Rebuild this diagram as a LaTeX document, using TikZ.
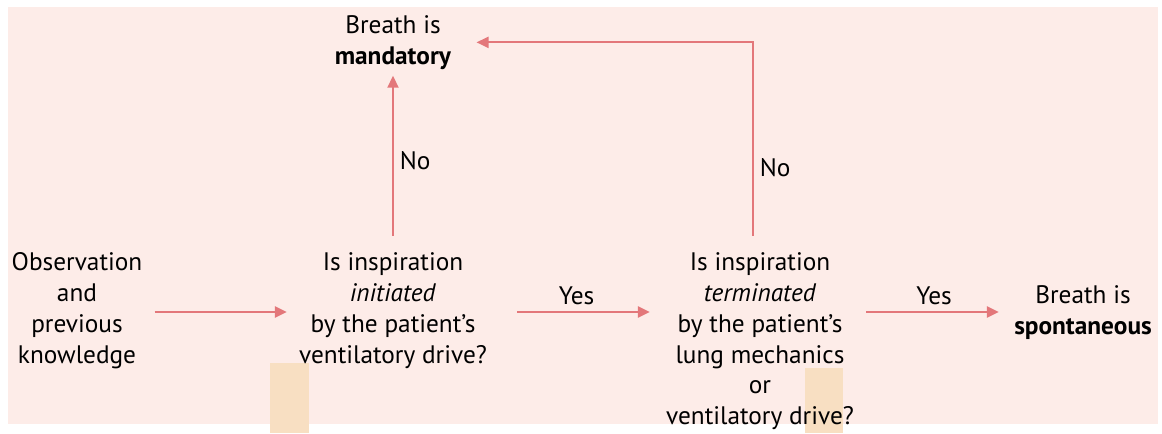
\documentclass[tikz,border=0pt]{standalone}
\usepackage{fontspec}
\setmainfont{PT Sans}
\usepackage{tikz}
\usetikzlibrary{arrows.meta,positioning,calc}
\definecolor{bgpink}{HTML}{FDECE8}
\definecolor{arrowred}{HTML}{E3777A}
\definecolor{barorange}{HTML}{F8DFC2}

\begin{document}
\begin{tikzpicture}[>=Latex,
  txt/.style={align=center,inner sep=0pt,font=\fontsize{14.4}{17.6}\selectfont},
  lab/.style={text=black,font=\fontsize{14.4}{17.6}\selectfont},
  arr/.style={arrowred,line width=1.5pt,-{Triangle[length=.24cm,width=.22cm]}}]
\useasboundingbox (0,0) rectangle (23.24,8.66);
\fill[bgpink] (.16,.18) rectangle (23.16,8.52);
\fill[barorange] (5.40,0) rectangle (6.18,1.40);
\fill[barorange] (16.10,0) rectangle (16.86,1.30);
\coordinate (axis) at (0,2.42);
\node[txt,anchor=north] (obs) at (1.54,3.62) {Observation\\and\\previous\\knowledge};
\node[txt,anchor=north] (q1) at (7.86,3.62) {Is inspiration\\\textit{initiated}\\by the patient’s\\ventilatory drive?};
\node[txt,anchor=north] (q2) at (15.2,3.62) {Is inspiration\\\textit{terminated}\\by the patient’s\\lung mechanics\\or\\ventilatory drive?};
\node[txt,anchor=north] (mand) at (7.86,8.36) {Breath is\\\textbf{mandatory}};
\node[txt,anchor=north] (spont) at (21.66,2.96) {Breath is\\\textbf{spontaneous}};
\draw[arr,shorten <=.24cm,shorten >=.24cm] (obs.east |- axis)--(q1.west |- axis);
\draw[arr,shorten <=.6cm,shorten >=.32cm] (q1.east |- axis)--(q2.west |- axis) node[lab,midway,above]{Yes};
\draw[arr,shorten <=.24cm,shorten >=.3cm] (q2.east |- axis)--(spont.west |- axis) node[lab,midway,above]{Yes};
\draw[arr,line width=1.2pt,shorten <=.32cm,shorten >=.12cm] (q1.north)--(mand.south) node[lab,midway,right]{No};
\draw[arr,line width=1.2pt,shorten <=.32cm,shorten >=.5cm] ([xshift=-.14cm]q2.north) |- (mand.east) node[lab,pos=.2,right]{No};
\end{tikzpicture}
\end{document}
